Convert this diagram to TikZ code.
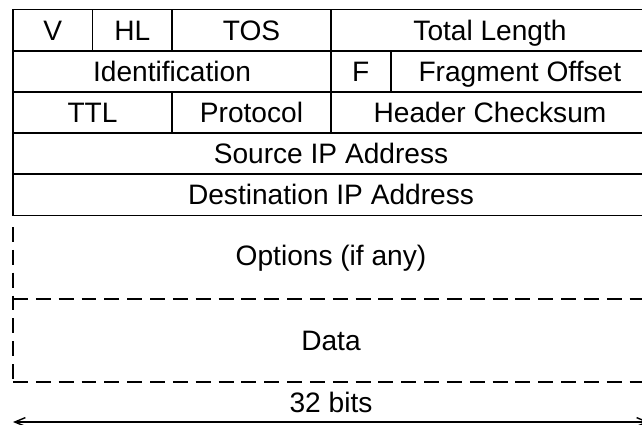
\documentclass[tikz,border=0pt]{standalone}
\usepackage{fontspec}
\setmainfont{Liberation Sans}
\usetikzlibrary{arrows.meta}

\tikzset{
  field/.style={font=\fontsize{16}{19}\selectfont, inner sep=0pt, text height=11.4pt, text depth=0pt},
  box/.style={line width=1.1pt},
  open/.style={line width=1.1pt, dash pattern=on 8.5pt off 4.5pt},
}

\begin{document}
\begin{tikzpicture}[x=0.02cm,y=-0.02cm]
  % units are pixels, origin at the top left
  \useasboundingbox (0,0) rectangle (642,424);
  \def\bw{19.875}   % width of one bit
  \def\rh{41.2}     % height of one row
  \def\xo{13}       % left edge
  \def\yo{9.5}      % top edge

  % Header fields: first bit / last bit / row / name / text
  \foreach \lo/\hi/\row/\id/\txt in {0/4/0/ver/V, 4/8/0/hl/HL, 8/16/0/tos/TOS, 16/32/0/len/Total Length,
      0/16/1/ident/Identification, 16/19/1/flags/F, 19/32/1/offset/Fragment Offset,
      0/8/2/ttl/TTL, 8/16/2/proto/Protocol, 16/32/2/csum/Header Checksum,
      0/32/3/src/Source IP Address, 0/32/4/dst/Destination IP Address} {
    \draw[box] ({\xo+\bw*\lo},{\yo+\rh*\row}) rectangle ({\xo+\bw*\hi},{\yo+\rh*(\row+1)});
    \node[field] (\id) at ({\xo+\bw*(\lo+\hi)/2},{\yo+\rh*(\row+0.5)}) {\txt};
  }

  % Options and data, open ended
  \draw[open] (\xo,227) -- (\xo,382);
  \draw[open] (\xo,299) -- (649,299);
  \draw[open] (\xo,382) -- (649,382);
  \node[field] (opts) at (331,255) {Options (if any)};
  \node[field] (data) at (331,340) {Data};

  % Word width
  \node[field] (bits) at (331,402) {32 bits};
  \coordinate (wl) at (\xo,422);
  \coordinate (wr) at (649,422);
  \draw[line width=0.8pt, {Straight Barb[length=6pt,width=5pt]}-{Straight Barb[length=6pt,width=5pt]}] (wl) -- (wr);

\end{tikzpicture}
\end{document}
